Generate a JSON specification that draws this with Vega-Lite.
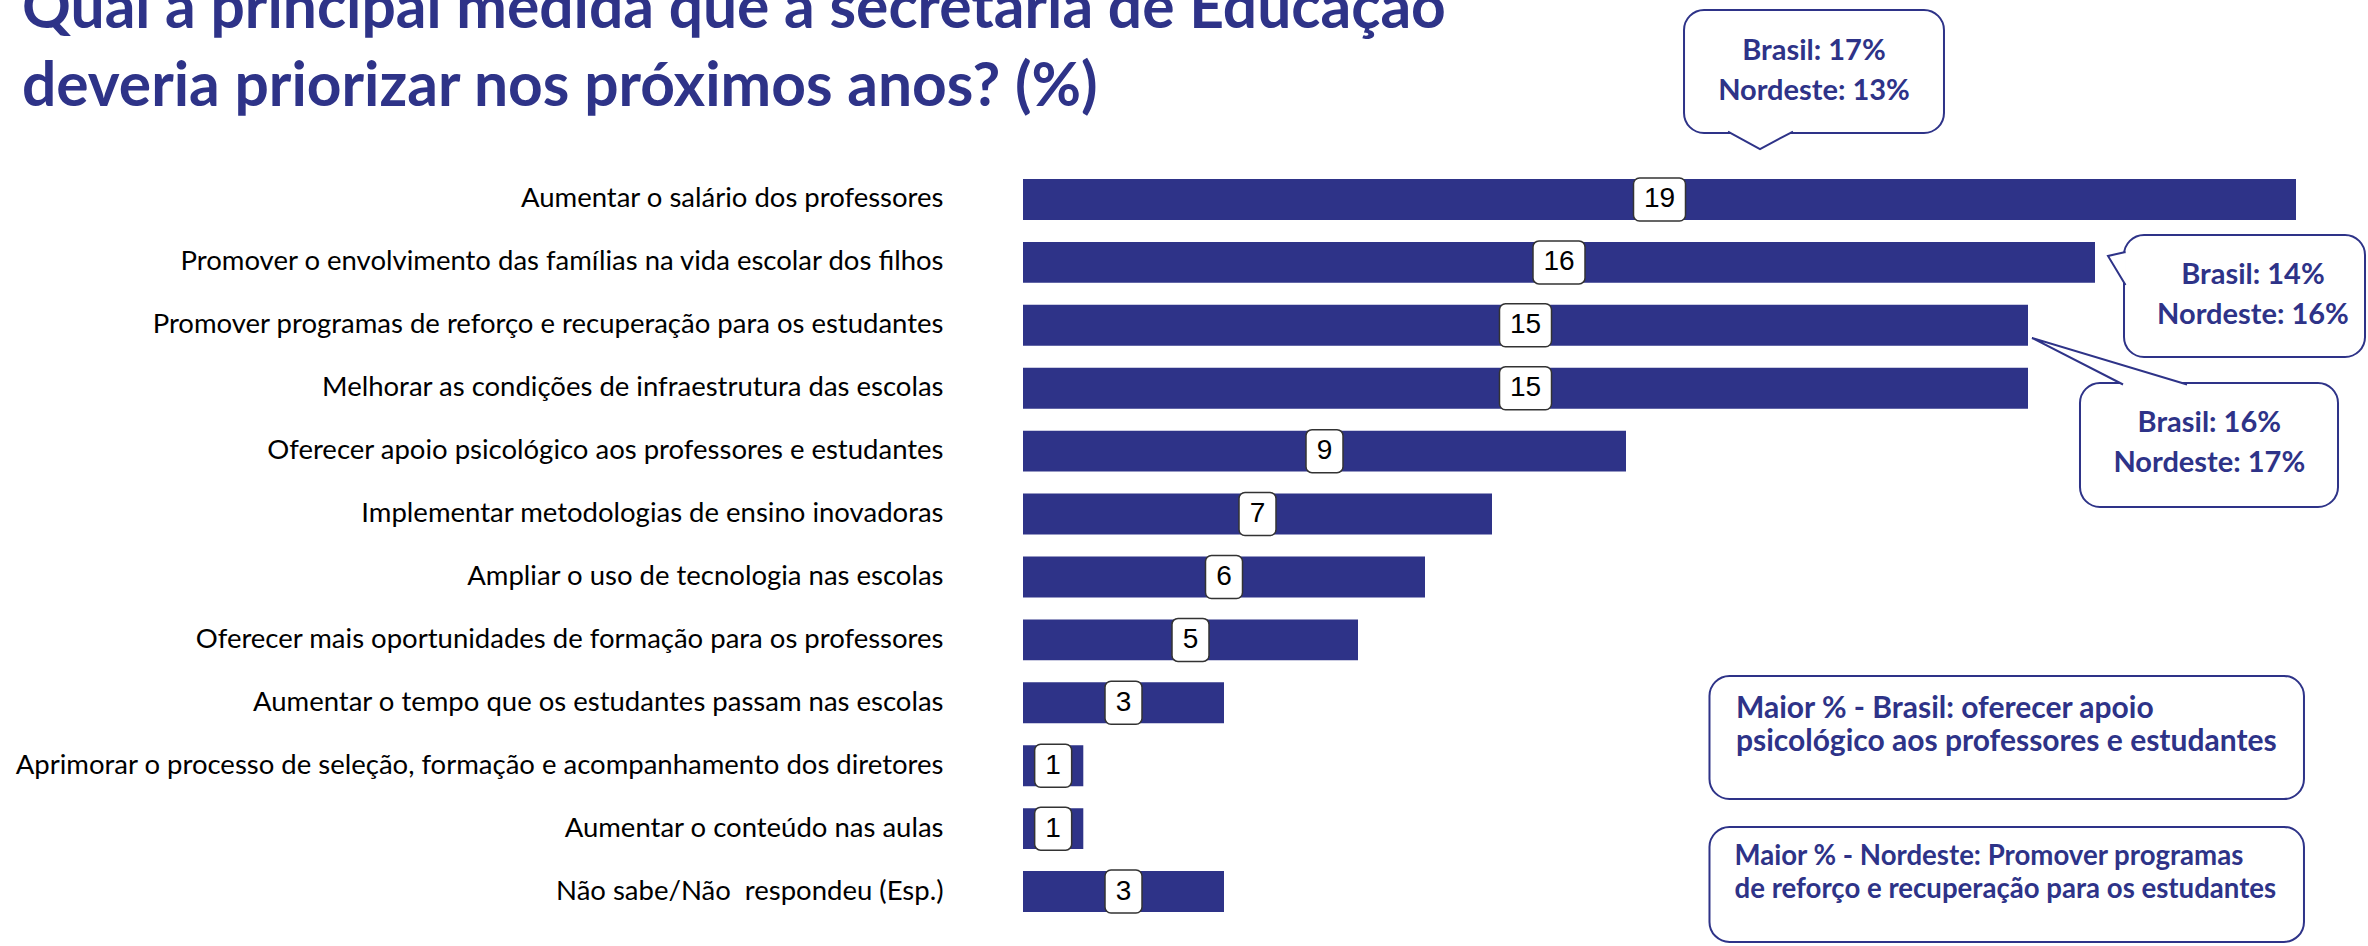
{
  "$schema": "https://vega.github.io/schema/vega-lite/v6.json",
  "width": 1273,
  "height": 755,
  "autosize": {"type": "none"},
  "padding": {"left": 1023, "top": 168, "right": 72, "bottom": 23},
  "background": "white",
  "config": {"view": {"stroke": null}},
  "datasets": {
    "medidas": [
      {"medida": "Aumentar o salário dos professores", "pct": 19},
      {"medida": "Promover o envolvimento das famílias na vida escolar dos filhos", "pct": 16},
      {"medida": "Promover programas de reforço e recuperação para os estudantes", "pct": 15},
      {"medida": "Melhorar as condições de infraestrutura das escolas", "pct": 15},
      {"medida": "Oferecer apoio psicológico aos professores e estudantes", "pct": 9},
      {"medida": "Implementar metodologias de ensino inovadoras", "pct": 7},
      {"medida": "Ampliar o uso de tecnologia nas escolas", "pct": 6},
      {"medida": "Oferecer mais oportunidades de formação para os professores", "pct": 5},
      {"medida": "Aumentar o tempo que os estudantes passam nas escolas", "pct": 3},
      {"medida": "Aprimorar o processo de seleção, formação e acompanhamento dos diretores", "pct": 0.9},
      {"medida": "Aumentar o conteúdo nas aulas", "pct": 0.9},
      {"medida": "Não sabe/Não\u00a0 respondeu (Esp.)", "pct": 3}
    ],
    "caixas": [
      {"x1": 9.866, "x2": 13.746, "y1": -2.511, "y2": -0.556},
      {"x1": 16.433, "x2": 20.03, "y1": 1.065, "y2": 3.004},
      {"x1": 15.776, "x2": 19.627, "y1": 3.417, "y2": 5.388},
      {"x1": 10.246, "x2": 19.119, "y1": 8.074, "y2": 10.029},
      {"x1": 10.246, "x2": 19.119, "y1": 10.474, "y2": 12.3}
    ],
    "pontas": [
      {"ponta": "abaixo", "x": 11.0, "y": -0.556},
      {"ponta": "esquerda", "x": 16.433, "y": 1.589},
      {"ponta": "diagonal", "x": 16.896, "y": 3.417}
    ],
    "notas": [
      {"tipo": "titulo", "texto": "Qual a principal medida que a secretaria de Educação", "x": -14.94, "y": -2.225},
      {"tipo": "titulo", "texto": "deveria priorizar nos próximos anos? (%)", "x": -14.94, "y": -0.985},
      {"tipo": "balao", "texto": "Brasil: 17%", "x": 11.806, "y": -1.852},
      {"tipo": "balao", "texto": "Nordeste: 13%", "x": 11.806, "y": -1.224},
      {"tipo": "balao", "texto": "Brasil: 14%", "x": 18.358, "y": 1.701},
      {"tipo": "balao", "texto": "Nordeste: 16%", "x": 18.358, "y": 2.336},
      {"tipo": "balao", "texto": "Brasil: 16%", "x": 17.706, "y": 4.058},
      {"tipo": "balao", "texto": "Nordeste: 17%", "x": 17.706, "y": 4.694},
      {"tipo": "caixa_brasil", "texto": "Maior % - Brasil: oferecer apoio", "x": 10.642, "y": 8.597},
      {"tipo": "caixa_brasil", "texto": "psicológico aos professores e estudantes", "x": 10.642, "y": 9.128},
      {"tipo": "caixa_nordeste", "texto": "Maior % - Nordeste: Promover programas", "x": 10.62, "y": 10.951},
      {"tipo": "caixa_nordeste", "texto": "de reforço e recuperação para os estudantes", "x": 10.62, "y": 11.475}
    ]
  },
  "layer": [
    {
      "data": {"name": "medidas"},
      "encoding": {
        "y": {
          "field": "medida",
          "type": "nominal",
          "sort": null,
          "scale": {"paddingInner": 0.35, "paddingOuter": 0.175},
          "axis": {
            "title": null,
            "domain": false,
            "ticks": false,
            "tickSize": 0,
            "grid": false,
            "labelPadding": 80,
            "labelFont": "Lato",
            "labelFontSize": 27.5,
            "labelColor": "#000000",
            "labelLimit": 2000
          }
        }
      },
      "layer": [
        {
          "mark": {"type": "bar", "color": "#2E3388"},
          "encoding": {
            "x": {"field": "pct", "type": "quantitative", "scale": {"domain": [0, 19], "nice": false, "zero": true}, "axis": null}
          }
        },
        {
          "transform": [{"calculate": "datum.pct / 2", "as": "meio"}],
          "mark": {"type": "point", "size": 4, "filled": true, "fill": "white", "stroke": "#333333", "strokeWidth": 1.5, "opacity": 1},
          "encoding": {
            "x": {"field": "meio", "type": "quantitative", "scale": {"domain": [0, 19], "nice": false, "zero": true}, "axis": null},
            "shape": {
              "condition": {"test": "datum.pct >= 9.5", "value": "M-20,-21.5 L20,-21.5 A6,6 0 0 1 26,-15.5 L26,15.5 A6,6 0 0 1 20,21.5 L-20,21.5 A6,6 0 0 1 -26,15.5 L-26,-15.5 A6,6 0 0 1 -20,-21.5 Z"},
              "value": "M-12.5,-21.5 L12.5,-21.5 A6,6 0 0 1 18.5,-15.5 L18.5,15.5 A6,6 0 0 1 12.5,21.5 L-12.5,21.5 A6,6 0 0 1 -18.5,15.5 L-18.5,-15.5 A6,6 0 0 1 -12.5,-21.5 Z"
            }
          }
        },
        {
          "transform": [{"calculate": "datum.pct / 2", "as": "meio"}],
          "mark": {"type": "text", "font": "Liberation Sans", "fontSize": 28, "color": "#000000", "baseline": "middle", "align": "center"},
          "encoding": {
            "x": {"field": "meio", "type": "quantitative", "scale": {"domain": [0, 19], "nice": false, "zero": true}, "axis": null},
            "text": {"field": "pct", "type": "quantitative", "format": ".0f"}
          }
        }
      ]
    },
    {
      "layer": [
        {
          "data": {"name": "caixas"},
          "mark": {"type": "rect", "fill": "white", "stroke": "#2E3388", "strokeWidth": 2, "cornerRadius": 20},
          "encoding": {
            "x": {"field": "x1", "type": "quantitative", "scale": {"domain": [0, 19], "nice": false, "zero": true}, "axis": null},
            "x2": {"field": "x2"},
            "y": {"field": "y1", "type": "quantitative", "scale": {"domain": [0, 12], "reverse": true, "nice": false, "zero": false}, "axis": null},
            "y2": {"field": "y2"}
          }
        },
        {
          "data": {"name": "pontas"},
          "mark": {"type": "point", "size": 4, "filled": true, "fill": "white", "stroke": "#2E3388", "strokeWidth": 2, "opacity": 1},
          "encoding": {
            "x": {"field": "x", "type": "quantitative", "scale": {"domain": [0, 19], "nice": false, "zero": true}, "axis": null},
            "y": {"field": "y", "type": "quantitative", "scale": {"domain": [0, 12], "reverse": true, "nice": false, "zero": false}, "axis": null},
            "shape": {
              "field": "ponta",
              "type": "nominal",
              "scale": {
                "domain": ["abaixo", "esquerda", "diagonal"],
                "range": ["M-32,-1.5 L0,16 L33,-1.5", "M1.5,-16 L-16,-12 L1.5,17", "M-32,1.5 L-123,-45 L32,1.5"]
              },
              "legend": null
            }
          }
        },
        {
          "data": {"name": "notas"},
          "transform": [{"filter": "datum.tipo === 'titulo'"}],
          "mark": {"type": "text", "font": "Lato", "fontWeight": "bold", "fontSize": 60.5, "color": "#2E3388", "align": "left", "baseline": "alphabetic"},
          "encoding": {
            "x": {"field": "x", "type": "quantitative", "scale": {"domain": [0, 19], "nice": false, "zero": true}, "axis": null},
            "y": {"field": "y", "type": "quantitative", "scale": {"domain": [0, 12], "reverse": true, "nice": false, "zero": false}, "axis": null},
            "text": {"field": "texto"}
          }
        },
        {
          "data": {"name": "notas"},
          "transform": [{"filter": "datum.tipo === 'balao'"}],
          "mark": {"type": "text", "font": "Lato", "fontWeight": "bold", "fontSize": 29, "color": "#2E3388", "align": "center", "baseline": "middle"},
          "encoding": {
            "x": {"field": "x", "type": "quantitative", "scale": {"domain": [0, 19], "nice": false, "zero": true}, "axis": null},
            "y": {"field": "y", "type": "quantitative", "scale": {"domain": [0, 12], "reverse": true, "nice": false, "zero": false}, "axis": null},
            "text": {"field": "texto"}
          }
        },
        {
          "data": {"name": "notas"},
          "transform": [{"filter": "datum.tipo === 'caixa_brasil'"}],
          "mark": {"type": "text", "font": "Lato", "fontWeight": "bold", "fontSize": 30, "color": "#2E3388", "align": "left", "baseline": "middle"},
          "encoding": {
            "x": {"field": "x", "type": "quantitative", "scale": {"domain": [0, 19], "nice": false, "zero": true}, "axis": null},
            "y": {"field": "y", "type": "quantitative", "scale": {"domain": [0, 12], "reverse": true, "nice": false, "zero": false}, "axis": null},
            "text": {"field": "texto"}
          }
        },
        {
          "data": {"name": "notas"},
          "transform": [{"filter": "datum.tipo === 'caixa_nordeste'"}],
          "mark": {"type": "text", "font": "Lato", "fontWeight": "bold", "fontSize": 27.6, "color": "#2E3388", "align": "left", "baseline": "middle"},
          "encoding": {
            "x": {"field": "x", "type": "quantitative", "scale": {"domain": [0, 19], "nice": false, "zero": true}, "axis": null},
            "y": {"field": "y", "type": "quantitative", "scale": {"domain": [0, 12], "reverse": true, "nice": false, "zero": false}, "axis": null},
            "text": {"field": "texto"}
          }
        }
      ]
    }
  ],
  "resolve": {"scale": {"y": "independent"}}
}
